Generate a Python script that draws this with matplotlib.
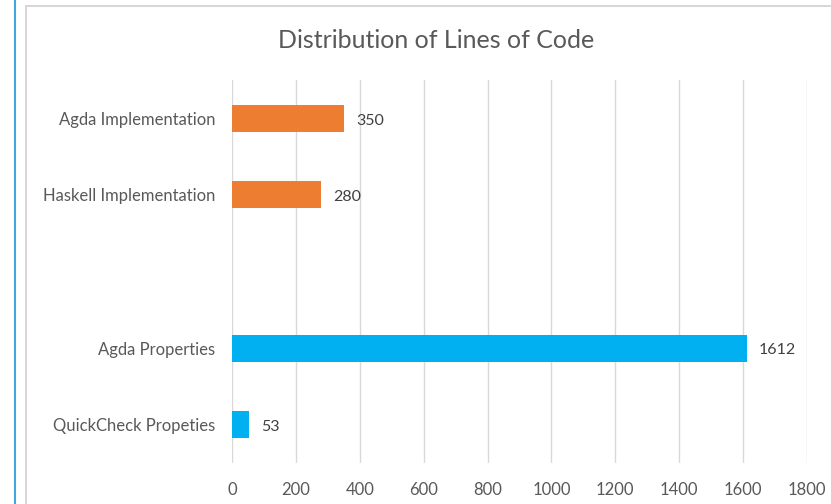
import matplotlib.pyplot as plt
from matplotlib.lines import Line2D
from matplotlib.patches import Rectangle

# data
impl_labels = ['Agda Implementation', 'Haskell Implementation']
impl_values = [350, 280]
prop_labels = ['Agda Properties', 'QuickCheck Propeties']
prop_values = [1612, 53]
x_ticks = [0, 200, 400, 600, 800, 1000, 1200, 1400, 1600, 1800]

ORANGE = '#ED7D31'
BLUE = '#00B0F0'
TEXT = '#595959'


def main():
    plt.rcParams['font.family'] = ['Lato', 'DejaVu Sans']

    W, H = 831, 504
    fig = plt.figure(figsize=(W / 100, H / 100), dpi=100)
    ax = fig.add_axes([232 / W, 1 - 463 / H, (807 - 232) / W, (463 - 80) / H])

    # one empty slot between the two groups
    impl_pos = list(range(len(impl_labels)))
    prop_pos = [len(impl_labels) + 1 + i for i in range(len(prop_labels))]

    ax.barh(impl_pos, impl_values, height=0.35, color=ORANGE, zorder=3)
    ax.barh(prop_pos, prop_values, height=0.35, color=BLUE, zorder=3)

    for p, v in zip(impl_pos + prop_pos, impl_values + prop_values):
        ax.text(v + 38, p + 0.03, str(v), va='center', ha='left', fontsize=11.5, color='#404040')

    ax.set_yticks(impl_pos + prop_pos)
    ax.set_yticklabels(impl_labels + prop_labels)
    ax.set_ylim(prop_pos[-1] + 0.5, -0.5)
    ax.set_xlim(0, 1800)
    ax.set_xticks(x_ticks)

    ax.tick_params(axis='both', length=0, labelsize=12, colors=TEXT)
    ax.tick_params(axis='y', pad=12)
    ax.tick_params(axis='x', pad=14)
    ax.grid(axis='x', color='#D9D9D9', linewidth=1, zorder=0)
    for s in ax.spines.values():
        s.set_visible(False)

    fig.text(436 / W, 1 - 41 / H, 'Distribution of Lines of Code', ha='center', va='center',
             fontsize=18, color=TEXT)

    # chart frame and the blue selection line on the left
    fig.patches.append(Rectangle((26 / W, -0.1), 1.2, 1 - 6 / H + 0.1, transform=fig.transFigure,
                                 fill=False, edgecolor='#D0D0D0', linewidth=1.2))
    fig.lines.append(Line2D([15 / W, 15 / W], [0, 1], transform=fig.transFigure,
                            color='#3FA9DD', linewidth=1.5))

    fig.savefig('out.png', dpi=100)


if __name__ == '__main__':
    main()
